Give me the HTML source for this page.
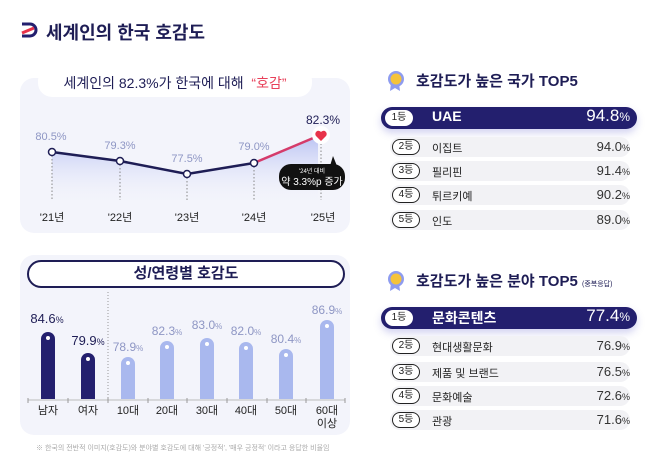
<!DOCTYPE html><html><head><meta charset="utf-8"><style>
*{margin:0;padding:0;box-sizing:border-box}
body{width:658px;height:468px;background:#fff;position:relative;overflow:hidden;font-family:"Liberation Sans","Noto Sans CJK KR",sans-serif;color:#1e1d55}
.a{position:absolute;white-space:nowrap}
.c{transform:translateX(-50%)}
.card{position:absolute;background:#f3f4fb;border-radius:14px}
.row{position:absolute;left:390px;width:240px;height:20px;background:#f2f2f5;border-radius:10px}
.rk{position:absolute;left:392px;width:28px;height:16px;border:1.5px solid #222;border-radius:8px;font-size:10px;text-align:center;line-height:13px;background:#fff;color:#222}
.nm{position:absolute;left:432px;font-size:11px;color:#222}
.vl{position:absolute;right:28px;font-size:13px;color:#333}
.vl small{font-size:9px}
.hl{position:absolute;left:381px;width:256px;height:22px;background:#231f6e;border-radius:11px;box-shadow:0 4px 8px rgba(80,80,200,.25)}
.lab{font-size:10px;color:#8e96c4}
.bl{position:absolute;font-size:11px;color:#222;text-align:center;width:40px;line-height:13px}
</style></head><body>
<svg class="a" style="left:20px;top:22px" width="20" height="16"><path d="M2 2h8a6 6 0 0 1 0 12H2" fill="none" stroke="#231f6e" stroke-width="3"/><path d="M2 11l12-5" stroke="#e8334a" stroke-width="3"/></svg>
<div class="a" style="left:46px;top:19px;font-size:18px;font-weight:bold">세계인의 한국 호감도</div>

<div class="card" style="left:20px;top:78px;width:330px;height:155px"></div>
<div class="a" style="left:38px;top:67px;width:274px;height:30px;background:#fff;border-radius:14px"></div>
<div class="a c" style="left:175px;top:73px;font-size:14px">세계인의 82.3%가 한국에 대해 <span style="color:#e8415a">&nbsp;“호감”</span></div>
<svg class="a" style="left:0;top:0" width="360" height="240">
<defs><linearGradient id="g" x1="0" y1="0" x2="0" y2="1"><stop offset="0" stop-color="#b9c2f3"/><stop offset="1" stop-color="#f3f4fb" stop-opacity="0"/></linearGradient></defs>
<path d="M52 152L120 161L187 174L254 163L318 136V205H52Z" fill="url(#g)"/>
<g stroke="#888" stroke-dasharray="1.5 2"><line x1="52" y1="152" x2="52" y2="200"/><line x1="120" y1="161" x2="120" y2="200"/><line x1="187" y1="174" x2="187" y2="200"/><line x1="254" y1="163" x2="254" y2="200"/><line x1="321" y1="140" x2="321" y2="200"/></g>
<polyline points="52,152 120,161 187,174 254,163" fill="none" stroke="#1e1d55" stroke-width="2.5"/>
<line x1="254" y1="163" x2="318" y2="136" stroke="#d53b6a" stroke-width="2.5"/>
<g fill="#fff" stroke="#1e1d55" stroke-width="1.5"><circle cx="52" cy="152" r="3.5"/><circle cx="120" cy="161" r="3.5"/><circle cx="187" cy="174" r="3.5"/><circle cx="254" cy="163" r="3.5"/></g>
<circle cx="321" cy="135" r="9" fill="#fff"/>
<path d="M321 141l-5-5a3 3 0 0 1 5-4a3 3 0 0 1 5 4z" fill="#e8334a"/>
<rect x="279" y="164" width="66" height="26" rx="12" fill="#111"/><path d="M330 166l3-10l4 10z" fill="#111"/>
<text x="312" y="173" font-size="6" fill="#fff" text-anchor="middle">'24년 대비</text>
<text x="312" y="185" font-size="10" fill="#fff" text-anchor="middle">약 3.3%p 증가</text>
</svg>
<div class="a c lab" style="left:51px;top:131px;font-size:11px">80.5%</div>
<div class="a c lab" style="left:120px;top:140px;font-size:11px">79.3%</div>
<div class="a c lab" style="left:187px;top:153px;font-size:11px">77.5%</div>
<div class="a c lab" style="left:254px;top:141px;font-size:11px">79.0%</div>
<div class="a c" style="left:323px;top:113px;font-size:12px">82.3%</div>
<div class="a c" style="left:52px;top:209px;font-size:11px;color:#222">'21년</div>
<div class="a c" style="left:120px;top:209px;font-size:11px;color:#222">'22년</div>
<div class="a c" style="left:187px;top:209px;font-size:11px;color:#222">'23년</div>
<div class="a c" style="left:254px;top:209px;font-size:11px;color:#222">'24년</div>
<div class="a c" style="left:323px;top:209px;font-size:11px;color:#222">'25년</div>

<div class="card" style="left:20px;top:255px;width:330px;height:180px"></div>
<div class="a" style="left:27px;top:260px;width:318px;height:28px;background:#fff;border:2px solid #1e1d55;border-radius:14px;text-align:center;font-size:15px;font-weight:bold;line-height:24px">성/연령별 호감도</div>
<svg class="a" style="left:0;top:0" width="360" height="430">
<line x1="108" y1="292" x2="108" y2="398" stroke="#999" stroke-dasharray="1 2"/>
<line x1="28" y1="400" x2="345" y2="400" stroke="#bbb"/>
<g stroke="#999"><line x1="28" y1="398" x2="28" y2="403"/><line x1="68" y1="398" x2="68" y2="403"/><line x1="108" y1="398" x2="108" y2="403"/><line x1="148" y1="398" x2="148" y2="403"/><line x1="187" y1="398" x2="187" y2="403"/><line x1="227" y1="398" x2="227" y2="403"/><line x1="267" y1="398" x2="267" y2="403"/><line x1="306" y1="398" x2="306" y2="403"/><line x1="345" y1="398" x2="345" y2="403"/></g>
<g fill="#231f6e"><path d="M41 399V339a7 7 0 0 1 14 0V399z"/><path d="M81 399V360a7 7 0 0 1 14 0V399z"/></g>
<g fill="#a9b8ee"><path d="M121 399V364a7 7 0 0 1 14 0V399z"/><path d="M160 399V348a7 7 0 0 1 14 0V399z"/><path d="M200 399V345a7 7 0 0 1 14 0V399z"/><path d="M239 399V349a7 7 0 0 1 14 0V399z"/><path d="M279 399V356a7 7 0 0 1 14 0V399z"/><path d="M320 399V327a7 7 0 0 1 14 0V399z"/></g>
<g fill="#fff"><circle cx="48" cy="338" r="2"/><circle cx="88" cy="359" r="2"/><circle cx="128" cy="363" r="2"/><circle cx="167" cy="347" r="2"/><circle cx="207" cy="344" r="2"/><circle cx="246" cy="348" r="2"/><circle cx="286" cy="355" r="2"/><circle cx="327" cy="326" r="2"/></g>
</svg>
<div class="a c" style="left:47px;top:311px;font-size:13px">84.6<small style="font-size:9px">%</small></div>
<div class="a c" style="left:88px;top:333px;font-size:13px">79.9<small style="font-size:9px">%</small></div>
<div class="a c lab" style="left:128px;top:340px;font-size:12px">78.9<small style="font-size:8px">%</small></div>
<div class="a c lab" style="left:167px;top:324px;font-size:12px">82.3<small style="font-size:8px">%</small></div>
<div class="a c lab" style="left:207px;top:318px;font-size:12px">83.0<small style="font-size:8px">%</small></div>
<div class="a c lab" style="left:246px;top:324px;font-size:12px">82.0<small style="font-size:8px">%</small></div>
<div class="a c lab" style="left:286px;top:332px;font-size:12px">80.4<small style="font-size:8px">%</small></div>
<div class="a c lab" style="left:327px;top:303px;font-size:12px">86.9<small style="font-size:8px">%</small></div>
<div class="bl" style="left:28px;top:405px">남자</div>
<div class="bl" style="left:68px;top:405px">여자</div>
<div class="bl" style="left:108px;top:405px">10대</div>
<div class="bl" style="left:147px;top:405px">20대</div>
<div class="bl" style="left:187px;top:405px">30대</div>
<div class="bl" style="left:226px;top:405px">40대</div>
<div class="bl" style="left:266px;top:405px">50대</div>
<div class="bl" style="left:307px;top:405px">60대<br>이상</div>
<div class="a" style="left:36px;top:443px;font-size:7px;color:#aaa">※ 한국의 전반적 이미지(호감도)와 분야별 호감도에 대해 '긍정적', '매우 긍정적' 이라고 응답한 비율임</div>

<!-- right -->
<svg class="a" style="left:386px;top:70px" width="20" height="22"><path d="M5 13l-1 8 5-3 5 3-1-8" fill="#8e9cf0"/><circle cx="10" cy="9" r="8" fill="#8e9cf0"/><circle cx="10" cy="9" r="5.5" fill="#f5c33b"/></svg>
<div class="a" style="left:416px;top:70px;font-size:15px;font-weight:bold">호감도가 높은 국가 TOP5</div>
<div class="hl" style="top:107px"></div>
<div class="rk" style="left:385px;top:110px;border-color:#fff">1등</div>
<div class="a" style="left:432px;top:108px;font-size:14px;color:#fff;font-weight:bold">UAE</div>
<div class="a" style="right:28px;top:106px;font-size:17px;color:#fff">94.8<small style="font-size:12px">%</small></div>
<div class="row" style="top:137px"></div><div class="rk" style="top:139px">2등</div><div class="nm" style="top:140px">이집트</div><div class="vl" style="top:139px">94.0<small>%</small></div>
<div class="row" style="top:161px"></div><div class="rk" style="top:163px">3등</div><div class="nm" style="top:164px">필리핀</div><div class="vl" style="top:163px">91.4<small>%</small></div>
<div class="row" style="top:185px"></div><div class="rk" style="top:187px">4등</div><div class="nm" style="top:188px">튀르키예</div><div class="vl" style="top:187px">90.2<small>%</small></div>
<div class="row" style="top:210px"></div><div class="rk" style="top:212px">5등</div><div class="nm" style="top:213px">인도</div><div class="vl" style="top:212px">89.0<small>%</small></div>

<svg class="a" style="left:386px;top:270px" width="20" height="22"><path d="M5 13l-1 8 5-3 5 3-1-8" fill="#8e9cf0"/><circle cx="10" cy="9" r="8" fill="#8e9cf0"/><circle cx="10" cy="9" r="5.5" fill="#f5c33b"/></svg>
<div class="a" style="left:416px;top:270px;font-size:15px;font-weight:bold">호감도가 높은 분야 TOP5 <span style="font-size:7px;font-weight:normal">(중복응답)</span></div>
<div class="hl" style="top:307px"></div>
<div class="rk" style="left:385px;top:310px;border-color:#fff">1등</div>
<div class="a" style="left:432px;top:308px;font-size:14px;color:#fff;font-weight:bold">문화콘텐츠</div>
<div class="a" style="right:28px;top:306px;font-size:17px;color:#fff">77.4<small style="font-size:12px">%</small></div>
<div class="row" style="top:336px"></div><div class="rk" style="top:338px">2등</div><div class="nm" style="top:339px">현대생활문화</div><div class="vl" style="top:338px">76.9<small>%</small></div>
<div class="row" style="top:362px"></div><div class="rk" style="top:364px">3등</div><div class="nm" style="top:365px">제품 및 브랜드</div><div class="vl" style="top:364px">76.5<small>%</small></div>
<div class="row" style="top:386px"></div><div class="rk" style="top:388px">4등</div><div class="nm" style="top:389px">문화예술</div><div class="vl" style="top:388px">72.6<small>%</small></div>
<div class="row" style="top:410px"></div><div class="rk" style="top:412px">5등</div><div class="nm" style="top:413px">관광</div><div class="vl" style="top:412px">71.6<small>%</small></div>
</body></html>
